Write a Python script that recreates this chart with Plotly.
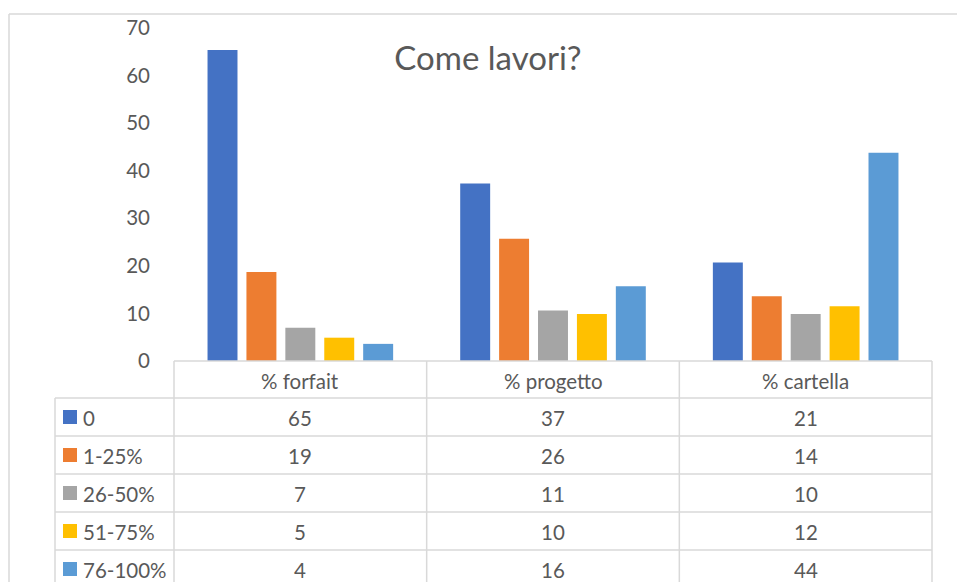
import plotly.graph_objects as go

categories = ["% forfait", "% progetto", "% cartella"]
series_names = ["0", "1-25%", "26-50%", "51-75%", "76-100%"]
s_0 = [65.4, 37.3, 20.7]
s_1_25 = [18.7, 25.7, 13.6]
s_26_50 = [7.0, 10.6, 9.9]
s_51_75 = [4.9, 9.9, 11.5]
s_76_100 = [3.6, 15.7, 43.8]
colors = ["#4472C4", "#ED7D31", "#A5A5A5", "#FFC000", "#5B9BD5"]
y_ticks = [0, 10, 20, 30, 40, 50, 60, 70]
title_text = "Come lavori?"

series_values = [s_0, s_1_25, s_26_50, s_51_75, s_76_100]

W, H = 957, 582
L, R, T, B = 174, 932, 28, 361
FONT = "Lato"
TXT = "#595959"
GRID = "#d9d9d9"
FS = 20.5

def px(xp):
    return (xp - L) / (R - L)

def py(yp):
    return (B - yp) / (B - T)

fig = go.Figure()
for name, vals, c in zip(series_names, series_values, colors):
    fig.add_trace(go.Bar(x=categories, y=vals, name=name, marker_color=c,
                         marker_line_width=0, showlegend=False))

shapes = []
annotations = []

# outer chart border
shapes.append(dict(type="line", xref="paper", yref="paper", x0=px(9), x1=px(W + 5),
                   y0=py(14), y1=py(14), line=dict(color=GRID, width=1.5)))
shapes.append(dict(type="line", xref="paper", yref="paper", x0=px(9), x1=px(9),
                   y0=py(14), y1=py(H + 5), line=dict(color=GRID, width=1.5)))

# data table grid
row_tops = [398, 436, 474, 512, 550]
shapes.append(dict(type="line", xref="paper", yref="paper", x0=px(L), x1=px(R),
                   y0=py(B), y1=py(B), line=dict(color=GRID, width=1.5)))
for yl in row_tops:
    shapes.append(dict(type="line", xref="paper", yref="paper", x0=px(55), x1=px(R),
                       y0=py(yl), y1=py(yl), line=dict(color=GRID, width=1.5)))
n = len(categories)
col_w = (R - L) / n
for i in range(n + 1):
    xv = L + i * col_w
    shapes.append(dict(type="line", xref="paper", yref="paper", x0=px(xv), x1=px(xv),
                       y0=py(B), y1=py(H + 5), line=dict(color=GRID, width=1.5)))
shapes.append(dict(type="line", xref="paper", yref="paper", x0=px(55), x1=px(55),
                   y0=py(398), y1=py(H + 5), line=dict(color=GRID, width=1.5)))

# header row
for cat in categories:
    annotations.append(dict(x=cat, xref="x", y=py((B + 398) / 2 + 1), yref="paper",
                            text=cat, showarrow=False, xanchor="center", yanchor="middle",
                            font=dict(family=FONT, size=FS, color=TXT)))

# data rows
for r, (name, vals, c) in enumerate(zip(series_names, series_values, colors)):
    yc = row_tops[r] + 19
    shapes.append(dict(type="rect", xref="paper", yref="paper",
                       x0=px(63), x1=px(77), y0=py(yc - 7), y1=py(yc + 7),
                       fillcolor=c, line=dict(width=0)))
    annotations.append(dict(x=px(81), xref="paper", y=py(yc + 1), yref="paper",
                            text=name, showarrow=False, xanchor="left", yanchor="middle",
                            font=dict(family=FONT, size=FS, color=TXT)))
    for cat, v in zip(categories, vals):
        annotations.append(dict(x=cat, xref="x", y=py(yc + 1), yref="paper",
                                text=str(int(round(v))), showarrow=False,
                                xanchor="center", yanchor="middle",
                                font=dict(family=FONT, size=FS, color=TXT)))

fig.update_layout(
    width=W, height=H, autosize=False,
    margin=dict(l=L, r=W - R, t=T, b=H - B, pad=0),
    paper_bgcolor="white", plot_bgcolor="white",
    bargap=0.23, bargroupgap=0.23, barmode="group",
    title=dict(text=title_text, x=488 / W, xanchor="center", xref="container",
               y=1 - 58 / H, yanchor="middle", yref="container",
               font=dict(family=FONT, size=33, color=TXT)),
    xaxis=dict(showticklabels=False, showgrid=False, zeroline=False, showline=False,
               ticks=""),
    yaxis=dict(range=[0, 70], tickvals=y_ticks, showgrid=False, zeroline=False,
               showline=False, ticks="", ticklabelstandoff=23,
               tickfont=dict(family=FONT, size=FS, color=TXT)),
    shapes=shapes, annotations=annotations,
)

fig.write_html("out.html")
